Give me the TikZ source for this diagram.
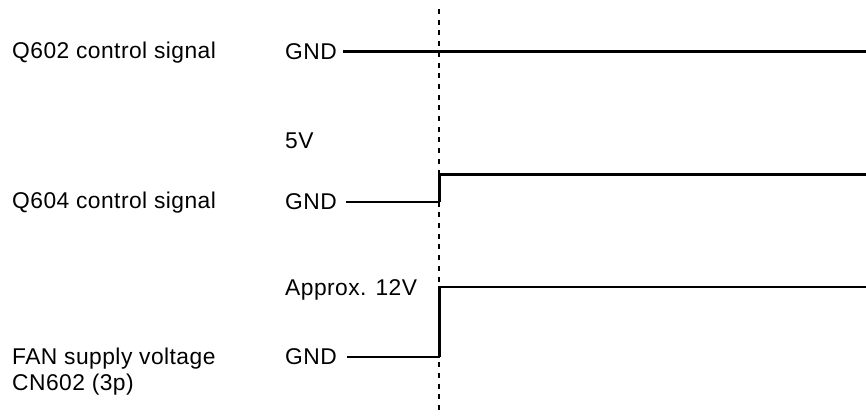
\documentclass[tikz,border=0pt]{standalone}
\usepackage{fontspec}
\setmainfont[LetterSpace=2]{Liberation Sans}
\begin{document}
\begin{tikzpicture}[x=1pt,y=-1pt,
  lbl/.style={anchor=base west,inner sep=0pt,font=\fontsize{22.8}{26}\selectfont},
  low/.style={line width=2pt},
  high/.style={line width=2.4pt},
  marker/.style={line width=2.8pt,dash pattern=on 5pt off 5.7pt}]
\useasboundingbox (0,0) rectangle (866,416);
% left labels
\node[lbl] (q602) at (12,58.5) {Q602 control signal};
\node[lbl] (q604) at (12,208.5) {Q604 control signal};
\node[lbl] (fan) at (12,364.5) {FAN supply voltage};
\node[lbl] (cn) at (12,390) {CN602 (3p)};
% level labels
\node[lbl] (g1) at (285,59.3) {GND};
\node[lbl] (v5) at (285,148) {5V};
\node[lbl] (g2) at (285,209.3) {GND};
\node[lbl] (v12) at (285,295) {Approx. 12V};
\node[lbl] (g3) at (285,364.3) {GND};
% coordinates
\coordinate (s1) at (343,51.5);
\coordinate (e1) at (866,51.5);
\coordinate (s2) at (346,201.5);
\coordinate (t2) at (439.5,201.5);
\coordinate (u2) at (439.5,174.5);
\coordinate (e2) at (866,174.5);
\coordinate (s3) at (347,356.5);
\coordinate (t3) at (439.5,356.5);
\coordinate (u3) at (439.5,286.7);
\coordinate (e3) at (866,286.7);
\coordinate (mt) at (439,9);
\coordinate (mb) at (439,414);
% signals
\draw[high] (s1) -- (e1);
\draw[low] (s2) -- (t2);
\draw[high] (t2) -- (u2) -- (e2);
\draw[low] (s3) -- (t3);
\draw[high] (t3) -- (u3) -- (e3);
% time marker
\draw[marker] (mt) -- (mb);
\end{tikzpicture}
\end{document}
